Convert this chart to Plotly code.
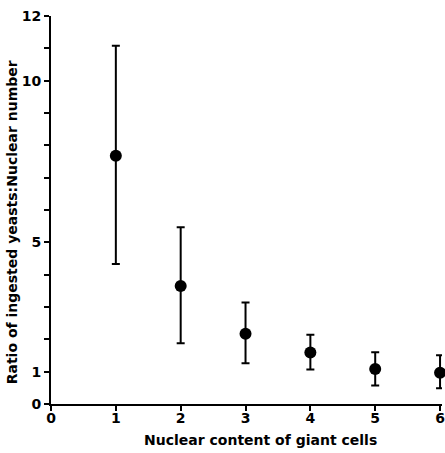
import plotly.graph_objects as go

nuclei = [1, 2, 3, 4, 5, 6]
ratio_mean = [7.68, 3.65, 2.17, 1.59, 1.08, 0.97]
ratio_upper = [11.08, 5.47, 3.14, 2.14, 1.60, 1.51]
ratio_lower = [4.33, 1.88, 1.26, 1.07, 0.57, 0.49]

y_tick_vals = list(range(0, 13))
y_tick_text = ["0", "1", "", "", "", "5", "", "", "", "", "10", "", "12"]
x_tick_vals = [0, 1, 2, 3, 4, 5, 6]

x_title = "Nuclear content of giant cells"
y_title = "Ratio of ingested yeasts:Nuclear number"

err_plus = [u - m for u, m in zip(ratio_upper, ratio_mean)]
err_minus = [m - l for m, l in zip(ratio_mean, ratio_lower)]

font_family = "DejaVu Sans"

fig = go.Figure()
fig.add_trace(go.Scatter(
    x=nuclei, y=ratio_mean, mode="markers",
    marker=dict(color="black", size=12, symbol="circle"),
    error_y=dict(type="data", symmetric=False, array=err_plus, arrayminus=err_minus,
                 color="black", thickness=2, width=4),
    showlegend=False, cliponaxis=False,
))

fig.update_layout(
    width=445, height=453,
    margin=dict(l=51, r=0, t=16, b=49),
    paper_bgcolor="white", plot_bgcolor="white",
    font=dict(family=font_family, color="black"),
    xaxis=dict(
        range=[0, 6.03], tickvals=x_tick_vals, ticktext=[str(v) for v in x_tick_vals],
        ticks="outside", ticklen=5, tickwidth=2, tickcolor="black",
        showline=True, linecolor="black", linewidth=2, showgrid=False, zeroline=False,
        ticklabeloverflow="allow", ticklabelstandoff=-5,
        tickfont=dict(size=14, family=font_family, weight="bold"),
    ),
    yaxis=dict(
        range=[0, 12], tickvals=y_tick_vals, ticktext=y_tick_text,
        ticks="outside", ticklen=5, tickwidth=2, tickcolor="black",
        showline=True, linecolor="black", linewidth=2, showgrid=False, zeroline=False,
        tickfont=dict(size=14, family=font_family, weight="bold"),
    ),
    annotations=[
        dict(text=x_title, xref="paper", yref="paper", x=0.536, y=-0.093,
             xanchor="center", yanchor="middle", showarrow=False,
             font=dict(size=14, family=font_family, weight="bold")),
        dict(text=y_title, xref="paper", yref="paper", x=-0.099, y=0.469,
             xanchor="center", yanchor="middle", showarrow=False, textangle=-90,
             font=dict(size=14, family=font_family, weight="bold")),
    ],
)

fig.write_html("out.html")
